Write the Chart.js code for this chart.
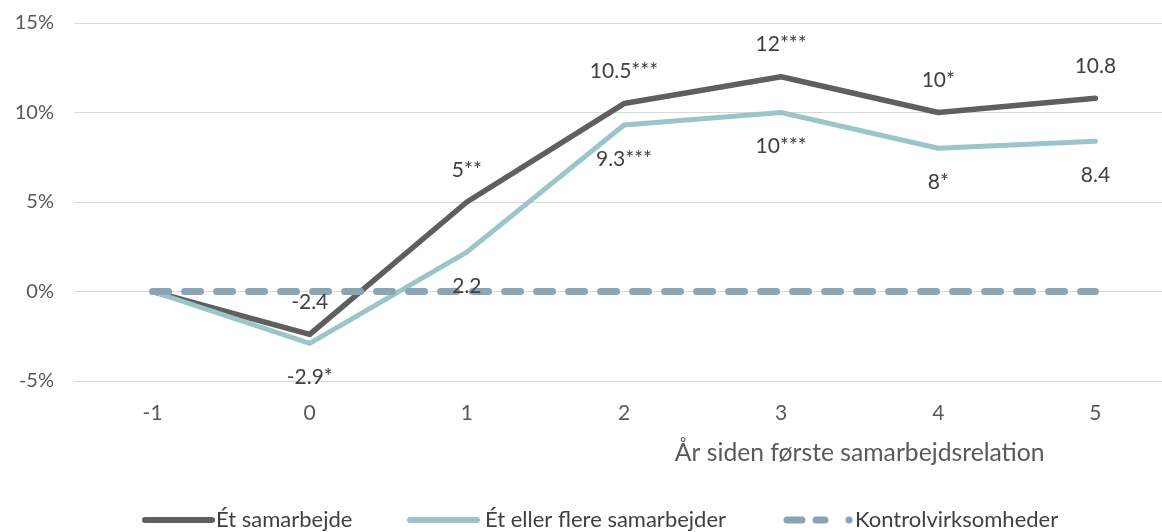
<!DOCTYPE html>
<html><head><meta charset="utf-8">
<script src="https://cdn.jsdelivr.net/npm/chart.js@4.4.0/dist/chart.umd.min.js"></script>
<style>html,body{margin:0;padding:0;background:#fff;overflow:hidden}#wrap{width:1162px;height:532px;overflow:hidden;position:relative}canvas{display:block}</style>
</head><body><div id="wrap"><canvas id="c" width="1174" height="532" style="width:1174px;height:532px"></canvas></div>
<script>
const categories = ['-1','0','1','2','3','4','5'];
const seriesNames = ['Ét samarbejde','Ét eller flere samarbejder','Kontrolvirksomheder'];
const oneCollab = [0,-2.4,5,10.5,12,10,10.8];
const oneOrMore = [0,-2.9,2.2,9.3,10,8,8.4];
const control = [0,0,0,0,0,0,0];
const oneCollabLabels = ['','-2.4','5**','10.5***','12***','10*','10.8'];
const oneOrMoreLabels = ['','-2.9*','2.2','9.3***','10***','8*','8.4'];
const yMin = -5, yMax = 15, yStep = 5;
const xTitle = 'År siden første samarbejdsrelation';

const FONT = 'Lato, "Open Sans", sans-serif';
const colors = ['#5f5f5f','#9cc5ca','#8ba4b5'];

const overlay = {
  id:'overlay',
  afterDatasetsDraw(chart){
    const ctx = chart.ctx;
    ctx.save();
    ctx.font = '21px ' + FONT;
    ctx.fillStyle = '#404040';
    ctx.textAlign = 'center';
    ctx.textBaseline = 'middle';
    [[0, oneCollabLabels, -32],[1, oneOrMoreLabels, 34]].forEach(([di, labels, dy])=>{
      chart.getDatasetMeta(di).data.forEach((pt,i)=>{
        if (labels[i]) ctx.fillText(labels[i], pt.x, pt.y + dy);
      });
    });
    const xs = chart.scales.x;
    ctx.fillStyle = '#595959';
    ctx.font = '24.7px ' + FONT;
    ctx.fillText(xTitle, xs.getPixelForValue(4.5), 453);
    // legend
    ctx.font = '22px ' + FONT;
    const starts = [142, 407, 783];
    const ly = 520;
    ctx.textAlign = 'left';
    ctx.lineCap = 'round';
    starts.forEach((x0,i)=>{
      ctx.strokeStyle = colors[i];
      ctx.beginPath();
      if (i < 2) {
        ctx.lineWidth = 6;
        ctx.moveTo(x0+3, ly); ctx.lineTo(x0+70, ly);
      } else {
        ctx.lineWidth = 7;
        ctx.moveTo(x0+4, ly); ctx.lineTo(x0+19, ly);
        ctx.moveTo(x0+33, ly); ctx.lineTo(x0+42, ly);
        ctx.moveTo(x0+66, ly); ctx.lineTo(x0+66.1, ly);
      }
      ctx.stroke();
      ctx.fillStyle = '#404040';
      ctx.fillText(seriesNames[i], x0 + (i===0?74:(i===1?78:72)), ly);
    });
    ctx.restore();
  }
};

new Chart(document.getElementById('c'), {
  type:'line',
  data:{
    labels: categories,
    datasets:[
      {label:seriesNames[0], data:oneCollab, borderColor:colors[0], backgroundColor:colors[0], borderWidth:5.5, pointRadius:0, tension:0, order:3, borderCapStyle:'round', borderJoinStyle:'round'},
      {label:seriesNames[1], data:oneOrMore, borderColor:colors[1], backgroundColor:colors[1], borderWidth:5, pointRadius:0, tension:0, order:2, borderCapStyle:'round', borderJoinStyle:'round'},
      {label:seriesNames[2], data:control, borderColor:colors[2], backgroundColor:colors[2], borderWidth:7, borderDash:[16,16], borderCapStyle:'round', pointRadius:0, tension:0, order:1}
    ]
  },
  options:{
    responsive:false, animation:false,
    layout:{padding:{top:23,right:0,left:0,bottom:0}},
    plugins:{legend:{display:false}, tooltip:{enabled:false}},
    scales:{
      x:{
        offset:true,
        grid:{display:false, drawTicks:false},
        border:{display:false},
        ticks:{color:'#595959', font:{family:FONT, size:21}, padding:20},
        afterFit(s){ s.height = 151; s.paddingLeft = 0; s.paddingRight = 0; }
      },
      y:{
        min:yMin, max:yMax,
        grid:{color:'#d9d9d9', lineWidth:1, drawTicks:false},
        border:{display:false},
        ticks:{stepSize:yStep, color:'#595959', font:{family:FONT, size:20}, padding:20, callback:v=>v+'%'},
        afterFit(s){ s.width = 74; s.paddingTop = 0; s.paddingBottom = 0; }
      }
    }
  },
  plugins:[overlay]
});
</script></body></html>
